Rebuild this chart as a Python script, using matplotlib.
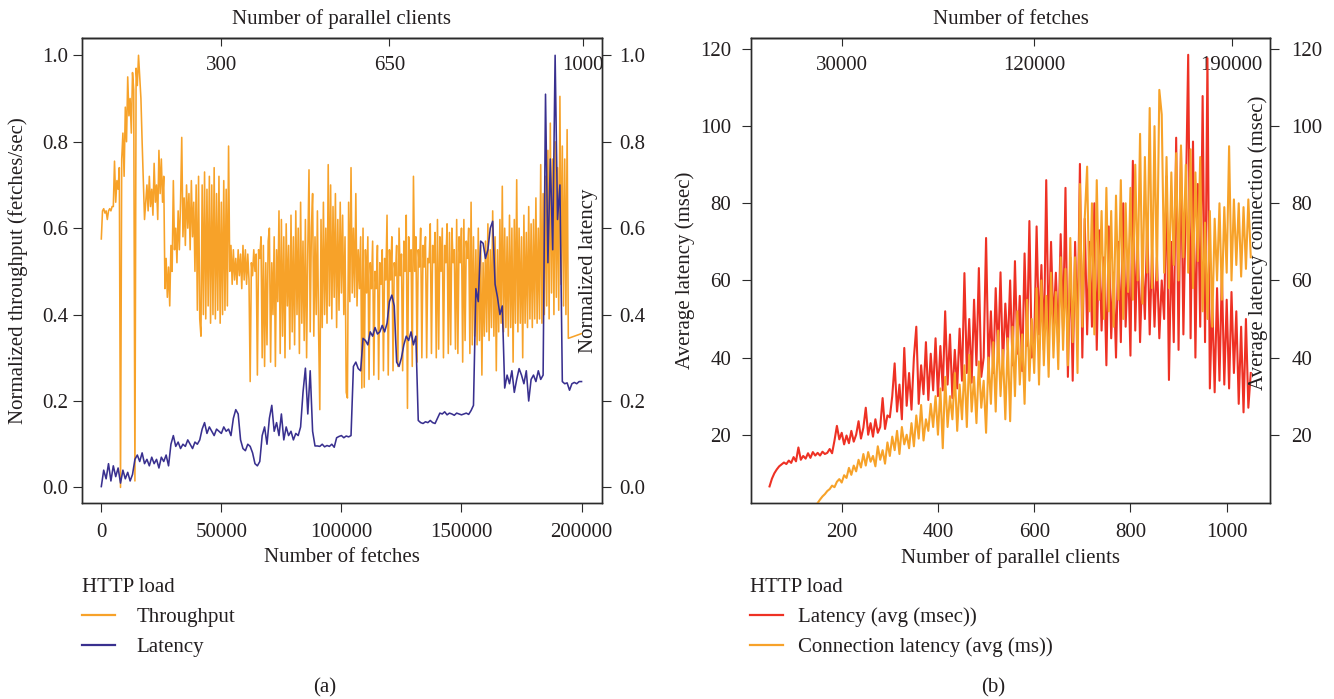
import numpy as np
import matplotlib
matplotlib.use("Agg")
import matplotlib.pyplot as plt

plt.rcParams['font.family'] = ['Liberation Serif', 'DejaVu Serif']
plt.rcParams['font.size'] = 15

# ---------------- data: panel (a) ----------------
# normalized throughput, one sample every 500 fetches (0 .. 200000)
thr_step = 500
throughput = [
    0.575, 0.64, 0.645, 0.635, 0.64, 0.62, 0.64, 0.645, 0.64, 0.65,
    0.65, 0.755, 0.66, 0.71, 0.69, 0.74, 0.0, 0.76, 0.82, 0.72,
    0.88, 0.80, 0.95, 0.86, 0.90, 0.82, 0.96, 0.92, 0.015, 0.97,
    0.93, 1.0, 0.95, 0.90, 0.80, 0.71, 0.62, 0.66, 0.70, 0.64,
    0.72, 0.65, 0.69, 0.63, 0.75, 0.66, 0.70, 0.62, 0.78, 0.68,
    0.76, 0.66, 0.72, 0.46, 0.53, 0.44, 0.51, 0.42, 0.56, 0.50,
    0.71, 0.55, 0.60, 0.52, 0.64, 0.55, 0.66, 0.81, 0.58, 0.67,
    0.56, 0.70, 0.60, 0.68, 0.55, 0.71, 0.58, 0.66, 0.50, 0.70,
    0.41, 0.72, 0.39, 0.35, 0.70, 0.40, 0.73, 0.39, 0.69, 0.42,
    0.72, 0.38, 0.70, 0.40, 0.74, 0.39, 0.68, 0.41, 0.72, 0.38,
    0.66, 0.40, 0.71, 0.41, 0.69, 0.42, 0.79, 0.50, 0.56, 0.47,
    0.55, 0.48, 0.53, 0.47, 0.55, 0.49, 0.54, 0.46, 0.56, 0.48,
    0.55, 0.47, 0.54, 0.48, 0.245, 0.52, 0.49, 0.55, 0.50, 0.54,
    0.26, 0.55, 0.53, 0.58, 0.30, 0.56, 0.28, 0.52, 0.33, 0.57,
    0.60, 0.29, 0.52, 0.40, 0.58, 0.28, 0.55, 0.43, 0.64, 0.31,
    0.62, 0.35, 0.58, 0.30, 0.61, 0.42, 0.56, 0.32, 0.63, 0.36,
    0.58, 0.33, 0.64, 0.40, 0.60, 0.31, 0.66, 0.38, 0.57, 0.34,
    0.62, 0.30, 0.55, 0.735, 0.36, 0.60, 0.68, 0.35, 0.58, 0.40,
    0.64, 0.36, 0.18, 0.62, 0.37, 0.66, 0.40, 0.60, 0.38, 0.747,
    0.42, 0.70, 0.39, 0.65, 0.44, 0.68, 0.37, 0.62, 0.41, 0.66,
    0.45, 0.63, 0.40, 0.58, 0.22, 0.207, 0.66, 0.43, 0.74, 0.45,
    0.60, 0.44, 0.68, 0.42, 0.55, 0.46, 0.58, 0.23, 0.60, 0.232,
    0.55, 0.45, 0.58, 0.25, 0.52, 0.46, 0.57, 0.26, 0.50, 0.46,
    0.56, 0.25, 0.52, 0.47, 0.55, 0.27, 0.53, 0.48, 0.63, 0.26,
    0.55, 0.48, 0.58, 0.27, 0.52, 0.49, 0.56, 0.28, 0.60, 0.49,
    0.54, 0.27, 0.57, 0.50, 0.63, 0.183, 0.58, 0.50, 0.55, 0.28,
    0.72, 0.50, 0.58, 0.29, 0.55, 0.51, 0.60, 0.30, 0.56, 0.51,
    0.58, 0.30, 0.53, 0.52, 0.61, 0.31, 0.56, 0.52, 0.59, 0.30,
    0.62, 0.32, 0.58, 0.50, 0.60, 0.30, 0.56, 0.52, 0.61, 0.31,
    0.59, 0.33, 0.60, 0.52, 0.55, 0.32, 0.62, 0.31, 0.58, 0.52,
    0.60, 0.29, 0.62, 0.34, 0.57, 0.53, 0.60, 0.31, 0.66, 0.33,
    0.58, 0.35, 0.55, 0.33, 0.60, 0.34, 0.56, 0.26, 0.52, 0.35,
    0.57, 0.36, 0.61, 0.34, 0.55, 0.37, 0.64, 0.35, 0.58, 0.27,
    0.55, 0.36, 0.62, 0.38, 0.697, 0.36, 0.60, 0.37, 0.58, 0.35,
    0.63, 0.37, 0.60, 0.29, 0.62, 0.38, 0.712, 0.36, 0.60, 0.38,
    0.58, 0.30, 0.63, 0.38, 0.59, 0.37, 0.65, 0.39, 0.61, 0.37,
    0.62, 0.39, 0.67, 0.38, 0.60, 0.39, 0.747, 0.38, 0.68, 0.40,
    0.72, 0.42, 0.78, 0.39, 0.843, 0.45, 0.76, 0.40, 0.80, 0.44,
    0.74, 0.41, 0.905, 0.47, 0.79, 0.42, 0.76, 0.40, 0.828, 0.345,
    0.346, 0.347, 0.348, 0.349, 0.35, 0.351, 0.352, 0.353, 0.354, 0.355,
    0.356,
]

# normalized latency, one sample every 1000 fetches (0 .. 200000)
lat_step = 1000
latency_norm = [
    0.002, 0.04, 0.02, 0.055, 0.015, 0.05, 0.025, 0.045, 0.01, 0.04,
    0.02, 0.035, 0.015, 0.03, 0.065, 0.075, 0.06, 0.08, 0.055, 0.065,
    0.05, 0.07, 0.055, 0.065, 0.045, 0.07, 0.06, 0.075, 0.05, 0.10,
    0.12, 0.095, 0.105, 0.09, 0.10, 0.095, 0.11, 0.10, 0.09, 0.105,
    0.10, 0.11, 0.135, 0.15, 0.125, 0.14, 0.13, 0.12, 0.135, 0.13,
    0.125, 0.14, 0.13, 0.135, 0.12, 0.16, 0.18, 0.17, 0.11, 0.09,
    0.085, 0.10, 0.095, 0.08, 0.055, 0.05, 0.06, 0.12, 0.14, 0.10,
    0.16, 0.19, 0.13, 0.15, 0.12, 0.17, 0.11, 0.14, 0.12, 0.13,
    0.11, 0.125, 0.12, 0.14, 0.22, 0.276, 0.17, 0.27, 0.13, 0.096,
    0.096, 0.095, 0.10, 0.094, 0.097, 0.095, 0.10, 0.093, 0.115, 0.118,
    0.12, 0.115, 0.119, 0.117, 0.12, 0.28, 0.29, 0.275, 0.27, 0.345,
    0.34, 0.33, 0.36, 0.35, 0.37, 0.355, 0.36, 0.375, 0.36, 0.38,
    0.43, 0.445, 0.42, 0.29, 0.28, 0.30, 0.33, 0.35, 0.34, 0.36,
    0.33, 0.35, 0.155, 0.15, 0.148, 0.152, 0.15, 0.155, 0.15, 0.148,
    0.16, 0.172, 0.17, 0.175, 0.168, 0.172, 0.17, 0.167, 0.172, 0.17,
    0.168, 0.17, 0.172, 0.169, 0.178, 0.19, 0.46, 0.43, 0.57, 0.565,
    0.53, 0.55, 0.60, 0.616, 0.47, 0.44, 0.40, 0.42, 0.23, 0.26,
    0.24, 0.27, 0.22, 0.25, 0.275, 0.26, 0.24, 0.27, 0.20, 0.25,
    0.26, 0.245, 0.27, 0.25, 0.26, 0.91, 0.52, 0.76, 0.55, 1.0,
    0.62, 0.70, 0.245, 0.24, 0.242, 0.225, 0.24, 0.243, 0.24, 0.245,
    0.245,
]

fetch_ticks = [0, 50000, 100000, 150000, 200000]
norm_ticks = [0.0, 0.2, 0.4, 0.6, 0.8, 1.0]
a_top_ticks = [50000, 120000, 200500]
a_top_labels = ['300', '650', '1000']

# ---------------- data: panel (b) ----------------
# average latency (msec), one sample every 5 clients from 50 to 1050
red_start, clients_step = 50, 5
latency_ms = [
    6.6, 8.6, 10.0, 11.0, 11.8, 12.3, 12.8, 12.4, 13.3, 12.7,
    14.2, 13.1, 16.7, 13.5, 14.5, 13.8, 15.2, 14.0, 15.5, 14.6,
    15.3, 14.6, 15.6, 15.0, 15.3, 16.3, 15.2, 18.5, 22.3, 18.8,
    20.5, 17.5, 19.8, 17.8, 21.0, 18.2, 20.0, 23.5, 19.0, 21.8,
    27.0, 20.0, 23.0, 19.5, 24.0, 20.5, 22.0, 29.5, 21.5, 25.0,
    24.5, 30.0, 38.5, 26.0, 33.0, 24.0, 42.5, 27.5, 36.0, 26.5,
    40.0, 48.0, 28.0, 38.0, 30.5, 44.0, 29.0, 41.0, 31.5, 45.0,
    30.0, 43.0, 31.5, 52.0, 33.0, 46.0, 29.5, 42.0, 32.0, 47.5,
    34.0, 61.9, 36.0, 50.0, 33.5, 55.0, 38.0, 63.2, 35.0, 40.0,
    71.0, 37.0, 52.0, 36.0, 58.0, 40.0, 62.1, 37.5, 54.0, 42.0,
    60.0, 38.0, 65.0, 41.0, 56.0, 36.5, 67.0, 43.0, 75.4, 40.0,
    44.0, 74.0, 46.0, 64.0, 42.0, 86.0, 45.0, 70.0, 48.0, 62.0,
    44.0, 72.0, 47.0, 84.0, 35.0, 66.0, 34.0, 70.0, 45.0, 90.2,
    40.0, 76.0, 46.0, 70.0, 48.0, 80.0, 42.0, 73.0, 47.0, 66.0,
    38.0, 74.0, 45.0, 62.0, 40.0, 70.0, 44.0, 80.0, 48.0, 66.0,
    40.5, 91.0, 47.0, 72.0, 44.0, 65.0, 50.0, 75.0, 46.0, 68.0,
    48.0, 66.0, 45.0, 60.0, 50.0, 87.0, 34.2, 70.0, 44.0, 97.0,
    42.0, 94.0, 46.0, 80.0, 118.5, 45.0, 96.0, 40.0, 85.0, 48.0,
    107.8, 44.0, 117.6, 32.0, 55.0, 31.0, 58.0, 34.0, 62.0, 33.0,
    55.0, 32.0, 57.0, 36.0, 52.0, 28.0, 48.0, 25.8, 50.0, 27.0,
    36.0,
]

# connection latency (msec), one sample every 5 clients from 150 to 1050
conn_start = 150
conn_latency_ms = [
    2.3, 3.2, 4.0, 4.6, 5.4, 5.9, 6.8, 6.4, 7.8, 8.5,
    7.6, 9.5, 8.8, 11.4, 9.6, 12.0, 10.5, 13.5, 11.5, 15.0,
    12.0, 15.5, 13.0, 14.5, 11.8, 17.0, 13.5, 16.0, 12.5, 18.0,
    14.5, 19.5, 16.0, 21.0, 15.0, 22.0, 17.5, 20.0, 16.5, 23.0,
    17.0, 25.0, 19.0, 27.7, 18.5, 24.0, 21.0, 28.0, 22.0, 30.0,
    20.0, 32.0, 16.5, 35.0, 22.0, 30.0, 24.0, 36.0, 21.0, 33.0,
    24.0, 38.0, 22.0, 40.7, 26.0, 35.0, 23.0, 39.0, 27.0, 34.0,
    20.5, 40.0, 28.0, 44.0, 26.0, 47.0, 30.0, 42.0, 24.0, 45.0,
    23.5, 48.0, 30.0, 52.0, 33.0, 46.0, 28.0, 55.0, 34.0, 50.0,
    36.0, 58.0, 33.0, 60.0, 38.0, 56.0, 35.0, 62.0, 40.0, 57.0,
    37.0, 66.0, 42.0, 63.0, 38.0, 71.0, 44.0, 66.0, 36.0, 85.0,
    48.0, 76.0, 89.5, 52.0, 80.0, 46.0, 86.0, 55.0, 78.0, 50.0,
    84.0, 52.0, 78.0, 48.0, 82.0, 55.0, 86.0, 50.0, 80.0, 57.0,
    84.0, 55.0, 90.0, 60.0, 98.0, 54.0, 92.0, 62.0, 104.7, 58.0,
    100.0, 60.0, 109.4, 103.0, 62.0, 92.0, 58.0, 88.0, 64.0, 93.0,
    60.0, 95.0, 66.0, 90.0, 62.0, 94.0, 58.0, 88.0, 65.0, 92.0,
    52.0, 75.0, 50.0, 78.0, 48.0, 76.0, 60.0, 80.0, 55.0, 79.0,
    62.0, 94.8, 60.0, 81.0, 64.0, 80.0, 61.0, 79.0, 63.0, 81.0,
    66.0,
]

client_ticks = [200, 400, 600, 800, 1000]
ms_ticks = [20, 40, 60, 80, 100, 120]
b_top_ticks = [200, 600, 1010]
b_top_labels = ['30000', '120000', '190000']

# ---------------- styling ----------------
ORANGE = '#F7A229'
PURPLE = '#39308F'
RED = '#EE3124'
AXC = '#2b2b2b'
TXT = '#231f20'

W, H = 1334, 699
fig = plt.figure(figsize=(W / 100, H / 100), dpi=100)


def box(l, t, r, b):
    return [l / W, 1 - b / H, (r - l) / W, (b - t) / H]


def style_axis(ax, ypad):
    for s in ax.spines.values():
        s.set_color(AXC)
        s.set_linewidth(1.0)
    ax.tick_params(axis='both', direction='out', length=6.8, width=0.8,
                   color=AXC, labelcolor=TXT)
    ax.tick_params(axis='x', pad=7.5)
    ax.tick_params(axis='y', pad=ypad)


def top_axis(ax, ticks, labels):
    sec = ax.secondary_xaxis('top')
    sec.set_xticks(ticks, labels=labels)
    sec.tick_params(direction='in', length=6, width=0.8, color=AXC,
                    labelcolor=TXT, pad=-27)
    sec.spines['top'].set_color(AXC)
    sec.spines['top'].set_linewidth(1.0)
    return sec


# ---------------- panel (a) ----------------
ax1 = fig.add_axes(box(82, 38, 601.7, 503))
x_thr = np.arange(len(throughput)) * thr_step
x_lat = np.arange(len(latency_norm)) * lat_step
h_thr, = ax1.plot(x_thr, throughput, color=ORANGE, lw=1.15)
ax1.set_xlim(-8040, 208400)
ax1.set_ylim(-0.036, 1.040)
ax1.set_xticks(fetch_ticks, labels=[str(v) for v in fetch_ticks])
ax1.set_yticks(norm_ticks, labels=[f'{v:.1f}' for v in norm_ticks])
style_axis(ax1, 3.0)

ax1r = ax1.twinx()
h_lat, = ax1r.plot(x_lat, latency_norm, color=PURPLE, lw=1.15)
ax1r.set_ylim(-0.036, 1.040)
ax1r.set_yticks(norm_ticks, labels=[f'{v:.1f}' for v in norm_ticks])
style_axis(ax1r, 6.0)
top_axis(ax1, a_top_ticks, a_top_labels)

# ---------------- panel (b) ----------------
ax2 = fig.add_axes(box(751, 38, 1270, 503))
x_red = red_start + np.arange(len(latency_ms)) * clients_step
x_conn = conn_start + np.arange(len(conn_latency_ms)) * clients_step
h_red, = ax2.plot(x_red, latency_ms, color=RED, lw=1.5)
ax2.set_xlim(11.5, 1090)
ax2.set_ylim(2.3, 122.85)
ax2.set_xticks(client_ticks, labels=[str(v) for v in client_ticks])
ax2.set_yticks(ms_ticks, labels=[str(v) for v in ms_ticks])
style_axis(ax2, 7.5)

ax2r = ax2.twinx()
h_conn, = ax2r.plot(x_conn, conn_latency_ms, color=ORANGE, lw=1.5)
ax2r.set_ylim(2.3, 122.85)
ax2r.set_yticks(ms_ticks, labels=[str(v) for v in ms_ticks])
style_axis(ax2r, 8.6)
top_axis(ax2, b_top_ticks, b_top_labels)

# ---------------- axis titles ----------------
def ftext(px, py, s, **kw):
    fig.text(px / W, 1 - py / H, s, ha='center', va='center', color=TXT, **kw)


ftext(342, 19, 'Number of parallel clients')
ftext(342, 558, 'Number of fetches')
ftext(18, 270.5, 'Normalized throughput (fetches/sec)', rotation=90)
ftext(588, 270.5, 'Normalized latency', rotation=90)

ftext(1010.5, 19, 'Number of fetches')
ftext(1010.5, 558, 'Number of parallel clients')
ftext(685, 270.5, 'Average latency (msec)', rotation=90)
ftext(1258, 243, 'Average latency connection (msec)', rotation=90)

ftext(325, 688, '(a)')
ftext(993, 688, '(b)')

# ---------------- legends ----------------
leg_kw = dict(title='HTTP load', loc='upper left', frameon=False,
              alignment='left', borderpad=0, borderaxespad=0,
              labelspacing=0.5, handlelength=1.6,
              bbox_transform=fig.transFigure)
lg1 = ax1.legend([h_thr, h_lat], ['Throughput', 'Latency'],
                 bbox_to_anchor=(82 / W, 1 - 578 / H), handletextpad=1.0, **leg_kw)
lg2 = ax2.legend([h_red, h_conn], ['Latency (avg (msec))', 'Connection latency (avg (ms))'],
                 bbox_to_anchor=(750 / W, 1 - 578 / H), handletextpad=0.7, **leg_kw)
for lg in (lg1, lg2):
    lg.get_title().set_color(TXT)
    for t in lg.get_texts():
        t.set_color(TXT)
    for ln in lg.get_lines():
        ln.set_linewidth(1.6)

fig.savefig('out.png', dpi=100)
